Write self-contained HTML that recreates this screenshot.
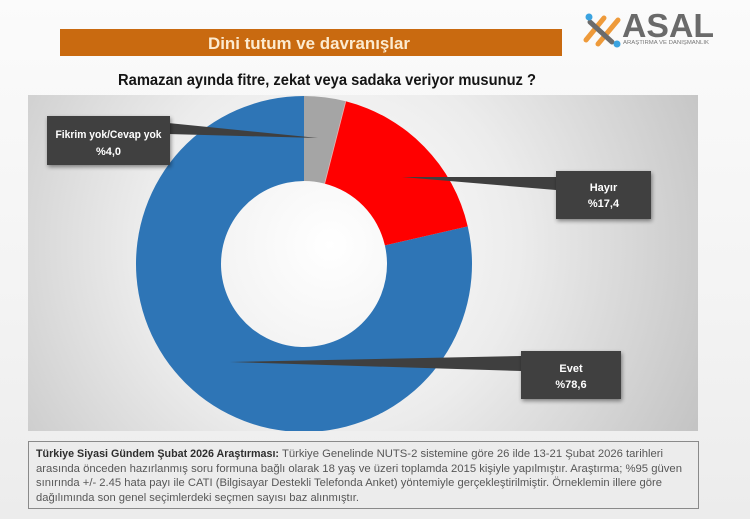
<!DOCTYPE html>
<html>
<head>
<meta charset="utf-8">
<style>
  html,body{margin:0;padding:0;}
  body{width:750px;height:519px;overflow:hidden;background:linear-gradient(#fbfbfb,#f3f3f3 60%,#ececec);}
  svg{display:block;}
</style>
</head>
<body>
<svg width="750" height="519" viewBox="0 0 750 519" xmlns="http://www.w3.org/2000/svg">
  <defs>
    <radialGradient id="bg" cx="330" cy="245" r="420" gradientUnits="userSpaceOnUse">
      <stop offset="0" stop-color="#ffffff"/>
      <stop offset="0.45" stop-color="#ececec"/>
      <stop offset="1" stop-color="#c2c2c2"/>
    </radialGradient>
    <filter id="sh" x="-20%" y="-20%" width="140%" height="150%">
      <feGaussianBlur in="SourceAlpha" stdDeviation="2"/>
      <feOffset dx="1" dy="2" result="b"/>
      <feComponentTransfer><feFuncA type="linear" slope="0.45"/></feComponentTransfer>
      <feMerge><feMergeNode/><feMergeNode in="SourceGraphic"/></feMerge>
    </filter>
    <clipPath id="cb"><rect x="28" y="95" width="670" height="336"/></clipPath>
  </defs>

  <!-- Logo -->
  <g>
    <line x1="586" y1="40" x2="604" y2="18" stroke="#ee9a3a" stroke-width="5" stroke-linecap="round"/>
    <line x1="598" y1="44" x2="618" y2="20" stroke="#ee9a3a" stroke-width="5" stroke-linecap="round"/>
    <line x1="590" y1="22" x2="612" y2="42" stroke="#6b6b6b" stroke-width="5" stroke-linecap="round"/>
    <circle cx="589" cy="17" r="3.5" fill="#3ba3e0"/>
    <circle cx="617" cy="44" r="3.5" fill="#3ba3e0"/>
    <text x="622" y="37" font-family="Liberation Sans, sans-serif" font-weight="bold" font-size="33" fill="#6a6a6a" textLength="92" lengthAdjust="spacingAndGlyphs">ASAL</text>
    <text x="623" y="44" font-family="Liberation Sans, sans-serif" font-size="5" fill="#777" textLength="86" lengthAdjust="spacingAndGlyphs">ARAŞTIRMA VE DANIŞMANLIK</text>
  </g>

  <!-- Title banner -->
  <rect x="60" y="29" width="502" height="27" fill="#c96a10"/>
  <text x="208" y="49" font-family="Liberation Sans, sans-serif" font-weight="bold" font-size="17" fill="#fcebd0" textLength="202" lengthAdjust="spacingAndGlyphs">Dini tutum ve davranışlar</text>

  <!-- Subtitle -->
  <text x="118" y="85" font-family="Liberation Sans, sans-serif" font-weight="bold" font-size="16" fill="#151515" textLength="418" lengthAdjust="spacingAndGlyphs">Ramazan ayında fitre, zekat veya sadaka veriyor musunuz ?</text>

  <!-- Chart box -->
  <rect x="28" y="95" width="670" height="336" fill="url(#bg)"/>
  <g clip-path="url(#cb)">
    <!-- donut -->
    <path d="M467.72,226.32 A168,168 0 1 1 304,96 L304,181 A83,83 0 1 0 384.89,245.39 Z" fill="#2e75b6"/>
    <path d="M304,96 A168,168 0 0 1 345.78,101.28 L324.64,183.61 A83,83 0 0 0 304,181 Z" fill="#a5a5a5"/>
    <path d="M345.78,101.28 A168,168 0 0 1 467.72,226.32 L384.89,245.39 A83,83 0 0 0 324.64,183.61 Z" fill="#ff0000"/>
    <line x1="345.78" y1="101.28" x2="324.64" y2="183.61" stroke="#e8b0b0" stroke-width="0.8"/>

    <!-- leader wedges -->
    <polygon points="168,123 318,138 168,134" fill="#3f3f3f"/>
    <polygon points="402,177 556,177 556,190" fill="#3f3f3f"/>
    <polygon points="230,362 521,356 521,371" fill="#3f3f3f"/>

    <!-- label boxes -->
    <g filter="url(#sh)">
      <rect x="47" y="116" width="123" height="49" fill="#404040"/>
      <rect x="556" y="171" width="95" height="48" fill="#404040"/>
      <rect x="521" y="351" width="100" height="48" fill="#404040"/>
    </g>
    <g font-family="Liberation Sans, sans-serif" font-weight="bold" font-size="11" fill="#ffffff" text-anchor="middle">
      <text x="108.5" y="138" textLength="106" lengthAdjust="spacingAndGlyphs">Fikrim yok/Cevap yok</text>
      <text x="108.5" y="155">%4,0</text>
      <text x="603.5" y="191">Hayır</text>
      <text x="603.5" y="207">%17,4</text>
      <text x="571" y="372">Evet</text>
      <text x="571" y="388">%78,6</text>
    </g>
  </g>

  <!-- Footnote -->
  <rect x="28.5" y="441.5" width="670" height="67" fill="#ececec" stroke="#8a8a8a" stroke-width="1"/>
  <g font-family="Liberation Sans, sans-serif" font-size="11" fill="#575757">
    <text x="36" y="457" font-weight="bold" fill="#2e2e2e" textLength="243" lengthAdjust="spacingAndGlyphs">Türkiye Siyasi Gündem Şubat 2026 Araştırması:</text>
    <text x="282" y="457" textLength="381" lengthAdjust="spacingAndGlyphs">Türkiye Genelinde  NUTS-2 sistemine göre 26 ilde 13-21 Şubat 2026 tarihleri</text>
    <text x="36" y="472" textLength="646" lengthAdjust="spacingAndGlyphs">arasında önceden  hazırlanmış soru formuna bağlı olarak 18 yaş ve üzeri toplamda 2015 kişiyle yapılmıştır. Araştırma; %95 güven</text>
    <text x="36" y="486" textLength="626" lengthAdjust="spacingAndGlyphs">sınırında +/- 2.45 hata payı ile CATI (Bilgisayar Destekli Telefonda  Anket) yöntemiyle gerçekleştirilmiştir. Örneklemin illere göre</text>
    <text x="36" y="501" textLength="323" lengthAdjust="spacingAndGlyphs">dağılımında son genel  seçimlerdeki  seçmen sayısı baz alınmıştır.</text>
  </g>
</svg>
</body>
</html>
